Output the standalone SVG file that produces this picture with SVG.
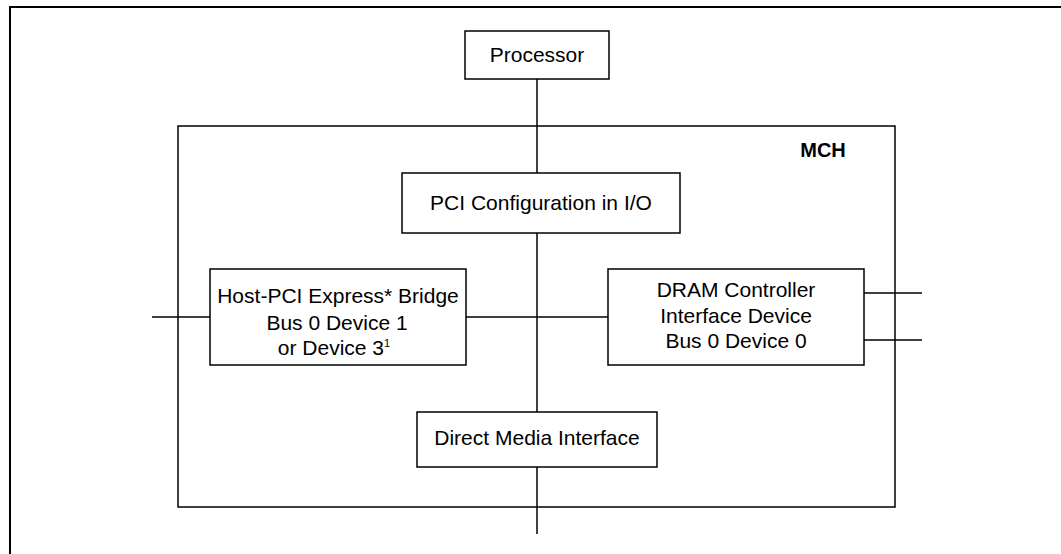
<svg xmlns="http://www.w3.org/2000/svg" width="1061" height="554" viewBox="0 0 1061 554">
<style>
.box{fill:#fff;stroke:#000;stroke-width:1.5}
.t{font-family:"Liberation Sans",Arial,sans-serif;font-size:21px;fill:#000;text-anchor:middle}
.b{font-family:"Liberation Sans",Arial,sans-serif;font-size:20px;font-weight:bold;fill:#000;text-anchor:middle}
.c{stroke:#000;stroke-width:1.5;fill:none}
</style>
<rect width="1061" height="554" fill="#fff"/>
<path d="M10,560 V7 H1065" fill="none" stroke="#000" stroke-width="2"/>
<g id="mch">
<rect class="box" x="178" y="126" width="717" height="381"/>
<text class="b" x="823" y="157">MCH</text>
</g>
<g id="connectors">
<line class="c" x1="537" y1="79" x2="537" y2="173"/>
<line class="c" x1="537" y1="233" x2="537" y2="412"/>
<line class="c" x1="537" y1="467" x2="537" y2="534"/>
<line class="c" x1="152" y1="317" x2="210" y2="317"/>
<line class="c" x1="466" y1="317" x2="608" y2="317"/>
<line class="c" x1="864" y1="293" x2="922" y2="293"/>
<line class="c" x1="864" y1="340" x2="922" y2="340"/>
</g>
<g id="processor">
<rect class="box" x="465" y="31" width="144" height="48"/>
<text class="t" x="537" y="62">Processor</text>
</g>
<g id="pci-config">
<rect class="box" x="402" y="173" width="278" height="60"/>
<text class="t" x="541" y="210">PCI Configuration in I/O</text>
</g>
<g id="host-pci">
<rect class="box" x="210" y="269" width="256" height="96"/>
<text class="t" x="338" y="302.5">Host-PCI Express* Bridge</text>
<text class="t" x="337" y="330">Bus 0 Device 1</text>
<text class="t" x="334" y="354.5">or Device 3<tspan font-size="11" dy="-8">1</tspan></text>
</g>
<g id="dram">
<rect class="box" x="608" y="269" width="256" height="96"/>
<text class="t" x="736" y="297">DRAM Controller</text>
<text class="t" x="736" y="323">Interface Device</text>
<text class="t" x="736" y="348">Bus 0 Device 0</text>
</g>
<g id="dmi">
<rect class="box" x="417" y="412" width="240" height="55"/>
<text class="t" x="537" y="445">Direct Media Interface</text>
</g>
</svg>
